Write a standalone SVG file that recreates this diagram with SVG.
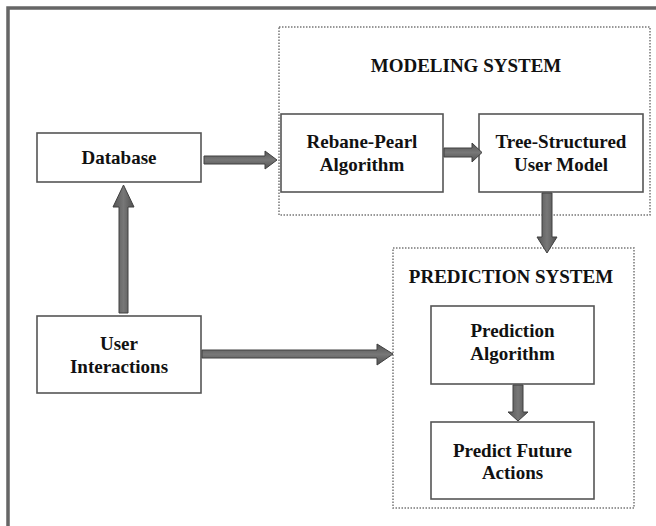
<svg xmlns="http://www.w3.org/2000/svg" width="656" height="526" viewBox="0 0 656 526">
<defs>
<linearGradient id="gh" x1="0" y1="0" x2="0" y2="1">
<stop offset="0" stop-color="#555"/><stop offset="0.5" stop-color="#777"/><stop offset="1" stop-color="#505050"/>
</linearGradient>
<linearGradient id="gv" x1="0" y1="0" x2="1" y2="0">
<stop offset="0" stop-color="#555"/><stop offset="0.5" stop-color="#777"/><stop offset="1" stop-color="#505050"/>
</linearGradient>
</defs>
<style>
.box{fill:#fff;stroke:#555;stroke-width:1.6}
.grp{fill:none;stroke:#777;stroke-width:1.5;stroke-dasharray:1.5 1.5}
.t{font-family:"Liberation Serif","Times New Roman",serif;font-weight:bold;font-size:19px;fill:#111;text-anchor:middle}
.ah{fill:url(#gh);stroke:#404040;stroke-width:1}
.av{fill:url(#gv);stroke:#404040;stroke-width:1}
</style>
<rect width="656" height="526" fill="#fff"/>
<path d="M8,526 V8 H656" fill="none" stroke="#666" stroke-width="3.5"/>
<g id="modeling-system">
<rect class="grp" x="279" y="27" width="371" height="188"/>
<text class="t" x="466" y="72">MODELING SYSTEM</text>
</g>
<g id="prediction-system">
<rect class="grp" x="393" y="248" width="241" height="260"/>
<text class="t" x="511" y="283">PREDICTION SYSTEM</text>
</g>
<g id="database">
<rect class="box" x="37" y="133" width="164" height="49"/>
<text class="t" x="119" y="164">Database</text>
</g>
<g id="rebane-pearl">
<rect class="box" x="281" y="114" width="162" height="78"/>
<text class="t" x="362" y="148">Rebane-Pearl</text>
<text class="t" x="362" y="171">Algorithm</text>
</g>
<g id="tree-model">
<rect class="box" x="479" y="114" width="164" height="78"/>
<text class="t" x="561" y="148">Tree-Structured</text>
<text class="t" x="561" y="171">User Model</text>
</g>
<g id="user-interactions">
<rect class="box" x="37" y="316" width="164" height="77"/>
<text class="t" x="119" y="350">User</text>
<text class="t" x="119" y="373">Interactions</text>
</g>
<g id="prediction-algorithm">
<rect class="box" x="431" y="306" width="163" height="78"/>
<text class="t" x="512.5" y="337">Prediction</text>
<text class="t" x="512.5" y="360">Algorithm</text>
</g>
<g id="predict-future">
<rect class="box" x="431" y="422" width="163" height="77"/>
<text class="t" x="512.5" y="457">Predict Future</text>
<text class="t" x="512.5" y="479">Actions</text>
</g>
<g id="connectors">
<polygon class="ah" points="204,156 265,156 265,151 277,160 265,169 265,164 204,164"/>
<polygon class="ah" points="444,148 472,148 472,143 482,152.5 472,162 472,157 444,157"/>
<polygon class="av" points="542,193 552,193 552,237 557,237 547,253 537,237 542,237"/>
<polygon class="av" points="119,313 119,207 113,207 123.5,185 134,207 128,207 128,313"/>
<polygon class="ah" points="202,350 377,350 377,344 393,354 377,365 377,358 202,358"/>
<polygon class="av" points="513,385 523,385 523,412 528,412 518,421 508,412 513,412"/>
</g>
</svg>
